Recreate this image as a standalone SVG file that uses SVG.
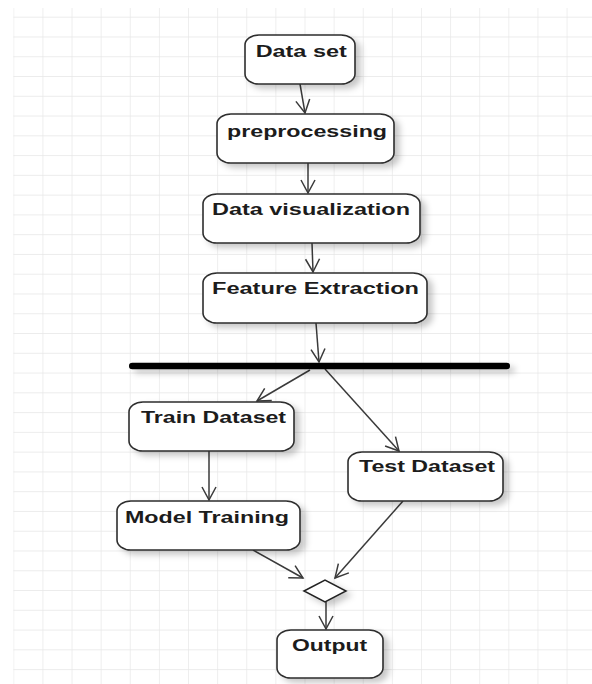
<svg xmlns="http://www.w3.org/2000/svg" width="592" height="684" viewBox="0 0 592 684">
<style>
.node rect{fill:#fff;stroke:#2e2e2e;stroke-width:1.6}
.lbl{font-family:"Liberation Sans",Arial,sans-serif;font-weight:bold;font-size:16px;fill:#1c1c1c}
.conn line{stroke:#3a3a3a;stroke-width:1.5;fill:none}
</style>
<defs>
<pattern id="grid" patternUnits="userSpaceOnUse" x="13.3" y="16.7" width="29.12" height="19.77">
<path d="M0 0 H29.12 M0 0 V19.77" stroke="#e6e6e6" stroke-width="1.3" fill="none"/>
</pattern>
<filter id="sh" x="-20%" y="-20%" width="150%" height="160%">
<feDropShadow dx="5" dy="4" stdDeviation="3" flood-color="#000" flood-opacity="0.22"/>
</filter>
<filter id="shb" filterUnits="userSpaceOnUse" x="110" y="350" width="420" height="35">
<feDropShadow dx="5" dy="4" stdDeviation="3" flood-color="#000" flood-opacity="0.22"/>
</filter>
<marker id="arr" markerUnits="userSpaceOnUse" markerWidth="20" markerHeight="20" viewBox="-15 -10 20 20" refX="0" refY="0" orient="auto">
<path d="M-13 -7 L0 0 L-13 7" fill="none" stroke="#3a3a3a" stroke-width="1.5"/>
</marker>
</defs>
<rect x="0" y="0" width="592" height="684" fill="#fff"/>
<rect x="13.3" y="8" width="578.7" height="676" fill="url(#grid)"/>

<g class="conn" id="connectors">
<line x1="300" y1="84" x2="305" y2="113" marker-end="url(#arr)"/>
<line x1="308" y1="163" x2="308" y2="193" marker-end="url(#arr)"/>
<line x1="312" y1="243" x2="313" y2="272" marker-end="url(#arr)"/>
<line x1="316" y1="323" x2="319" y2="362" marker-end="url(#arr)"/>
<line x1="310" y1="370" x2="257" y2="401" marker-end="url(#arr)"/>
<line x1="325" y1="369" x2="399" y2="451" marker-end="url(#arr)"/>
<line x1="209" y1="451" x2="209" y2="500" marker-end="url(#arr)"/>
<line x1="253" y1="550" x2="303" y2="578" marker-end="url(#arr)"/>
<line x1="403" y1="501" x2="335" y2="578" marker-end="url(#arr)"/>
<line x1="326" y1="602" x2="326" y2="629" marker-end="url(#arr)"/>
</g>

<g id="fork">
<rect x="129" y="362.7" width="381" height="6.6" rx="3.3" ry="3.3" fill="#000" filter="url(#shb)"/>
</g>

<g class="node" id="n-dataset">
<rect x="245" y="35" width="110" height="49" rx="14" ry="10" filter="url(#sh)"/>
<text class="lbl" x="255.7" y="56.5" textLength="91" lengthAdjust="spacingAndGlyphs">Data set</text>
</g>
<g class="node" id="n-preprocessing">
<rect x="217" y="114" width="177" height="49" rx="14" ry="10" filter="url(#sh)"/>
<text class="lbl" x="227" y="136.5" textLength="160" lengthAdjust="spacingAndGlyphs">preprocessing</text>
</g>
<g class="node" id="n-datavis">
<rect x="203" y="194" width="217" height="49" rx="14" ry="10" filter="url(#sh)"/>
<text class="lbl" x="212" y="215" textLength="198" lengthAdjust="spacingAndGlyphs">Data visualization</text>
</g>
<g class="node" id="n-feature">
<rect x="203" y="273" width="224" height="50" rx="14" ry="10" filter="url(#sh)"/>
<text class="lbl" x="212" y="294.3" textLength="207" lengthAdjust="spacingAndGlyphs">Feature Extraction</text>
</g>
<g class="node" id="n-train">
<rect x="129" y="402" width="165" height="49" rx="14" ry="10" filter="url(#sh)"/>
<text class="lbl" x="141" y="422.7" textLength="145" lengthAdjust="spacingAndGlyphs">Train Dataset</text>
</g>
<g class="node" id="n-test">
<rect x="348" y="452" width="155" height="49" rx="14" ry="10" filter="url(#sh)"/>
<text class="lbl" x="359" y="472" textLength="136" lengthAdjust="spacingAndGlyphs">Test Dataset</text>
</g>
<g class="node" id="n-model">
<rect x="117" y="501" width="183" height="49" rx="14" ry="10" filter="url(#sh)"/>
<text class="lbl" x="125" y="523" textLength="164" lengthAdjust="spacingAndGlyphs">Model Training</text>
</g>
<g id="n-merge">
<polygon points="304,591 325,580 346,591 325,602" fill="#fff" stroke="#222" stroke-width="1.5" filter="url(#sh)"/>
</g>
<g class="node" id="n-output">
<rect x="277" y="630" width="106" height="48" rx="14" ry="10" filter="url(#sh)"/>
<text class="lbl" x="292" y="651" textLength="75" lengthAdjust="spacingAndGlyphs">Output</text>
</g>
</svg>
